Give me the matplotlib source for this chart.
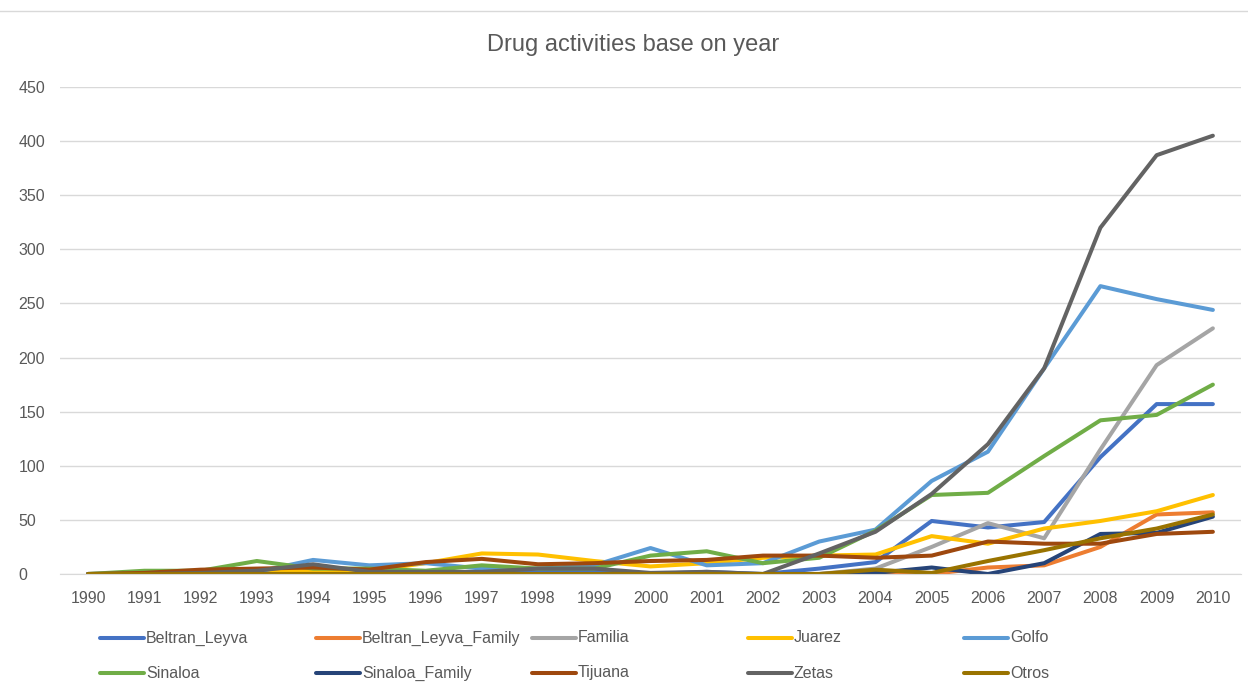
import matplotlib.pyplot as plt
from matplotlib.lines import Line2D

years = list(range(1990, 2011))

beltran_leyva        = [0, 0, 1, 2, 2, 1, 1, 2, 2, 2, 0, 2, 0, 5, 11, 49, 43, 48, 108, 157, 157]
beltran_leyva_family = [0, 0, 0, 0, 0, 0, 0, 0, 0, 0, 0, 0, 0, 0, 0, 0, 6, 8, 25, 55, 57]
familia              = [0, 0, 0, 0, 0, 0, 0, 0, 0, 0, 0, 0, 0, 0, 5, 25, 47, 33, 115, 193, 227]
juarez               = [0, 0, 1, 2, 3, 3, 10, 19, 18, 12, 7, 10, 15, 17, 18, 35, 28, 42, 49, 58, 73]
golfo                = [0, 1, 2, 2, 13, 8, 10, 5, 5, 8, 24, 8, 10, 30, 41, 86, 113, 190, 266, 254, 244]
sinaloa              = [0, 3, 3, 12, 5, 5, 3, 8, 5, 5, 17, 21, 10, 15, 40, 73, 75, 109, 142, 147, 175]
sinaloa_family       = [0, 0, 0, 0, 0, 0, 0, 0, 0, 0, 0, 0, 0, 0, 1, 6, 0, 10, 37, 38, 53]
tijuana              = [0, 1, 4, 5, 6, 4, 11, 14, 9, 10, 12, 13, 17, 17, 15, 17, 30, 28, 28, 37, 39]
zetas                = [0, 0, 1, 3, 9, 2, 2, 2, 5, 5, 1, 2, 0, 19, 39, 74, 120, 190, 320, 387, 405]
otros                = [0, 0, 0, 0, 0, 0, 0, 0, 0, 0, 0, 0, 0, 0, 4, 1, 12, 22, 33, 42, 55]

names = ["Beltran_Leyva", "Beltran_Leyva_Family", "Familia", "Juarez", "Golfo",
         "Sinaloa", "Sinaloa_Family", "Tijuana", "Zetas", "Otros"]
series = [beltran_leyva, beltran_leyva_family, familia, juarez, golfo,
          sinaloa, sinaloa_family, tijuana, zetas, otros]
colors = ["#4472C4", "#ED7D31", "#A5A5A5", "#FFC000", "#5B9BD5",
          "#70AD47", "#264478", "#9E480E", "#636363", "#997300"]

plt.rcParams['font.family'] = ['Liberation Sans', 'DejaVu Sans']

fig = plt.figure(figsize=(12.48, 6.86), dpi=100)
ax = fig.add_axes([60 / 1248, 1 - 574 / 686, 1181 / 1248, 487 / 686])

for vals, col in zip(series, colors):
    ax.plot(years, vals, color=col, lw=2.9, solid_capstyle='round', solid_joinstyle='round')

ax.set_xlim(1989.5, 2010.5)
ax.set_ylim(0, 450)
ax.set_yticks(range(0, 451, 50))
ax.set_xticks(years)
ax.grid(axis='y', color='#D9D9D9', lw=1)
ax.set_axisbelow(True)
for s in ['top', 'right', 'left']:
    ax.spines[s].set_visible(False)
ax.spines['bottom'].set_color('#D9D9D9')
ax.tick_params(length=0, labelsize=11.5, labelcolor='#595959')
ax.tick_params(axis='x', pad=12)
ax.tick_params(axis='y', pad=30)
for lab in ax.get_yticklabels():
    lab.set_horizontalalignment('left')

fig.text(0.507, 1 - 45 / 686, "Drug activities base on year", ha='center', va='center',
         fontsize=17, color='#595959')

# legend laid out in a 5 x 2 grid
for i, (name, col) in enumerate(zip(names, colors)):
    row, c = divmod(i, 5)
    x0 = 100 + 216 * c
    y = 1 - (638 + 35 * row) / 686
    fig.add_artist(Line2D([x0 / 1248, (x0 + 44) / 1248], [y, y], color=col, lw=2.9,
                          solid_capstyle='round'))
    fig.text((x0 + 46) / 1248, y, name, ha='left', va='center', fontsize=11.5, color='#595959')

fig.add_artist(Line2D([0, 1], [1 - 11 / 686, 1 - 11 / 686], color='#D9D9D9', lw=1))

fig.savefig("out.png", dpi=100)
